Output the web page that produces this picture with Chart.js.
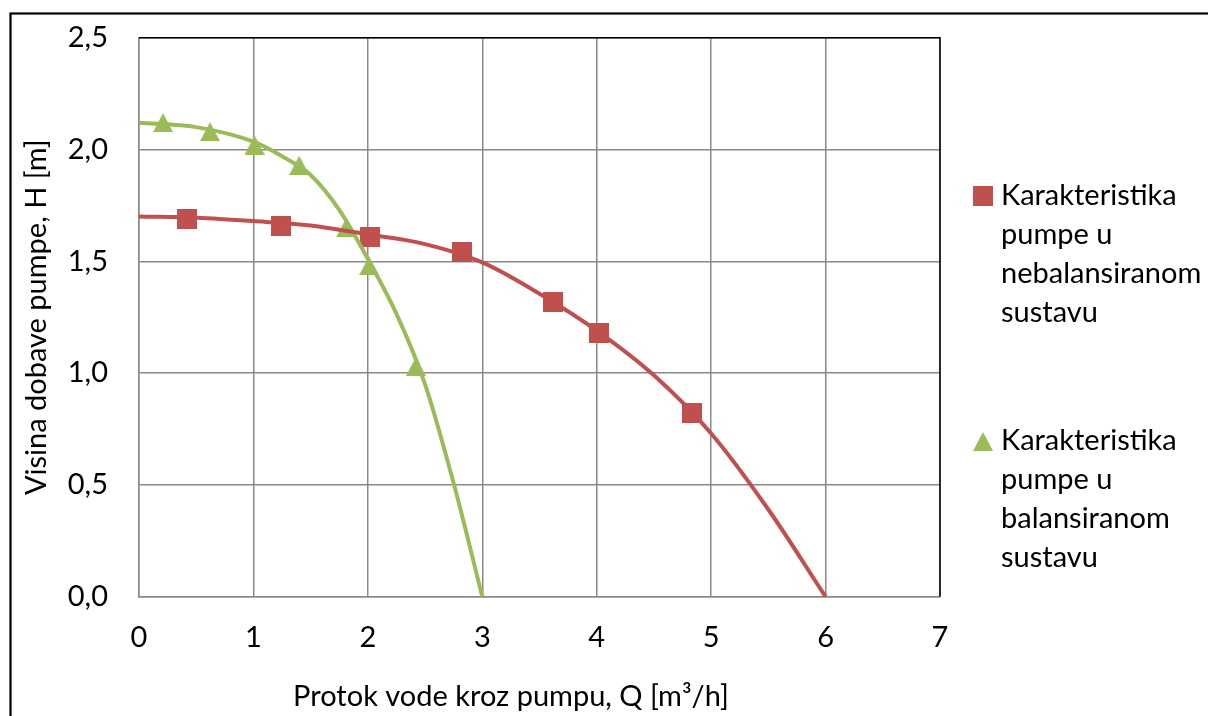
<!DOCTYPE html>
<html><head><meta charset="utf-8">
<script src="https://cdn.jsdelivr.net/npm/chart.js@4"></script>
<style>html,body{margin:0;padding:0;background:#fff;overflow:hidden}#wrap{width:1208px;height:716px;position:relative}</style>
</head><body><div id="wrap"><canvas id="c" width="1208" height="716"></canvas></div>
<script>
// ---- data ----
const redQ = [0.42, 1.24, 2.02, 2.82, 3.62, 4.02, 4.83];
const redH = [1.69, 1.66, 1.61, 1.54, 1.32, 1.18, 0.82];
const greenQ = [0.21, 0.62, 1.01, 1.40, 1.81, 2.01, 2.42];
const greenH = [2.12, 2.08, 2.02, 1.93, 1.65, 1.48, 1.03];
// trendline points
const redTrendQ = [0, 0.5, 1, 1.5, 2, 2.5, 3, 3.5, 4, 4.5, 5, 5.5, 6];
const redTrendH = [1.70, 1.695, 1.68, 1.66, 1.62, 1.577, 1.495, 1.355, 1.19, 0.99, 0.73, 0.39, 0];
const greenTrendQ = [0, 0.5, 1, 1.25, 1.5, 1.75, 2, 2.25, 2.5, 2.75, 3];
const greenTrendH = [2.12, 2.10, 2.035, 1.97, 1.886, 1.73, 1.51, 1.265, 0.95, 0.507, 0];
const xTickValues = [0, 1, 2, 3, 4, 5, 6, 7];
const yTickValues = [0, 0.5, 1.0, 1.5, 2.0, 2.5];
const legendRed = ["Karakteristika", "pumpe u", "nebalansiranom", "sustavu"];
const legendGreen = ["Karakteristika", "pumpe u", "balansiranom", "sustavu"];
const xTitle = "Protok vode kroz pumpu, Q [m\u00B3/h]";
const yTitle = "Visina dobave pumpe, H [m]";

const RED = '#C0504D', GREEN = '#9BBB59', GRID = '#898989';
const FONT = 'Lato';
const FS = 29;

function pts(xs, ys){ return xs.map((x,i)=>({x, y: ys[i]})); }
function squareImg(color, s){ const c=document.createElement('canvas'); c.width=s; c.height=s; const g=c.getContext('2d'); g.fillStyle=color; g.fillRect(0,0,s,s); return c; }
function triImg(color, w, h){ const c=document.createElement('canvas'); c.width=w; c.height=h; const g=c.getContext('2d'); g.fillStyle=color; g.beginPath(); g.moveTo(w/2,0); g.lineTo(w,h); g.lineTo(0,h); g.closePath(); g.fill(); return c; }
const sq = squareImg(RED, 20);
const tri = triImg(GREEN, 20, 19);

const framePlugin = {
  id: 'frame',
  beforeDatasetsDraw(chart){
    const {ctx, chartArea:a} = chart;
    ctx.save();
    ctx.strokeStyle = '#000'; ctx.lineWidth = 1.5;
    ctx.beginPath(); ctx.moveTo(a.left, a.top); ctx.lineTo(a.right, a.top); ctx.lineTo(a.right, a.bottom); ctx.stroke();
    ctx.restore();
  },
  afterDraw(chart){
    const ctx = chart.ctx;
    ctx.save();
    ctx.strokeStyle = '#000'; ctx.lineWidth = 2.2;
    ctx.strokeRect(10.5, 13.5, 1210, 720);
    ctx.fillStyle = '#000'; ctx.font = FS + 'px ' + FONT; ctx.textBaseline = 'middle';
    ctx.textAlign = 'center';
    ctx.fillText(xTitle, 511, 697);
    ctx.textAlign = 'left'; ctx.textBaseline = 'alphabetic';
    ctx.drawImage(sq, 973, 186);
    legendRed.forEach((t,i)=>ctx.fillText(t, 1001, 205 + i*39));
    ctx.drawImage(tri, 973, 432);
    legendGreen.forEach((t,i)=>ctx.fillText(t, 1001, 449.5 + i*39));
    ctx.restore();
  }
};

const tickFont = {family: FONT, size: FS};
new Chart(document.getElementById('c'), {
  type: 'scatter',
  data: { datasets: [
    {label:'trend red', data: pts(redTrendQ, redTrendH), showLine:true, borderColor: RED, borderWidth: 4, pointRadius:0, cubicInterpolationMode:'monotone', fill:false},
    {label:'trend green', data: pts(greenTrendQ, greenTrendH), showLine:true, borderColor: GREEN, borderWidth: 4, pointRadius:0, cubicInterpolationMode:'monotone', fill:false},
    {label:'Karakteristika pumpe u nebalansiranom sustavu', data: pts(redQ, redH), pointStyle: sq, pointRadius: 10, backgroundColor: RED, borderColor: RED},
    {label:'Karakteristika pumpe u balansiranom sustavu', data: pts(greenQ, greenH), pointStyle: tri, pointRadius: 10, backgroundColor: GREEN, borderColor: GREEN}
  ]},
  options: {
    responsive: false, animation: false, devicePixelRatio: 1,
    layout: { padding: {top: 37.7, right: 268, bottom: 0, left: 0} },
    plugins: { legend: {display:false}, tooltip: {enabled:false} },
    scales: {
      x: { type:'linear', min:0, max:7,
        afterBuildTicks(s){ s.ticks = xTickValues.map(v=>({value:v})); },
        afterFit(s){ s.height = 119.3; s.paddingLeft = 0; s.paddingRight = 0; },
        ticks: { font: tickFont, color:'#000', padding: 24, callback: v => String(v) },
        grid: { color: GRID, lineWidth: 1.5, drawTicks:false },
        border: { color: GRID, width: 1.5 },
        title: { display:false }
      },
      y: { min:0, max:2.5,
        afterBuildTicks(s){ s.ticks = yTickValues.map(v=>({value:v})); },
        afterFit(s){ s.width = 139; s.paddingTop = 0; s.paddingBottom = 0; },
        ticks: { font: tickFont, color:'#000', padding: 31, callback: v => v.toFixed(1).replace('.', ',') },
        grid: { color: GRID, lineWidth: 1.5, drawTicks:false },
        border: { color: GRID, width: 1.5 },
        title: { display:true, text: yTitle, font: tickFont, color:'#000', padding:{top:19.6, bottom:0} }
      }
    }
  },
  plugins: [framePlugin]
});
</script></body></html>
